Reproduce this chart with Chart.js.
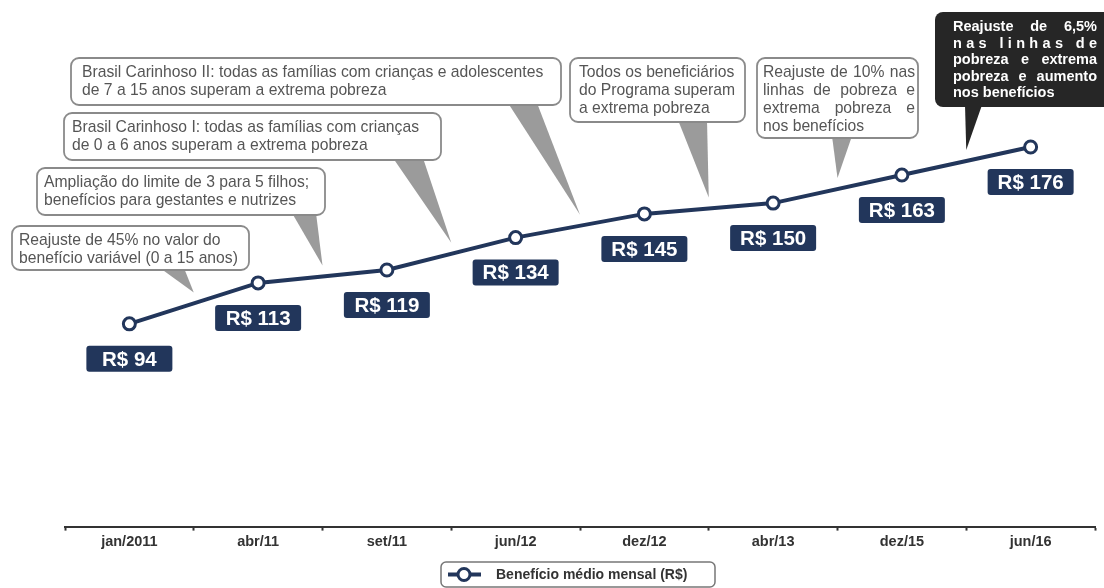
<!DOCTYPE html>
<html>
<head>
<meta charset="utf-8">
<script src="https://cdn.jsdelivr.net/npm/chart.js@4.4.1/dist/chart.umd.min.js"></script>
<style>
  html, body { margin: 0; padding: 0; background: #fff; }
  canvas { display: block; }
</style>
</head>
<body>
<canvas id="chart" width="1104" height="588"></canvas>
<script>
// ── DADOS ──
const categories = ["jan/2011", "abr/11", "set/11", "jun/12", "dez/12", "abr/13", "dez/15", "jun/16"];
const beneficio  = [94, 113, 119, 134, 145, 150, 163, 176];
const seriesLabel = "Benefício médio mensal (R$)";

// textos dos balões (cada um aponta entre o ponto i e i+1)
const calloutTexts = [
    ["Reajuste de 45% no valor do", "benefício variável (0 a 15 anos)"],
    ["Ampliação do limite de 3 para 5 filhos;", "benefícios para gestantes e nutrizes"],
    ["Brasil Carinhoso I: todas as famílias com crianças", "de 0 a 6 anos superam a extrema pobreza"],
    ["Brasil Carinhoso II: todas as famílias com crianças e adolescentes", "de 7 a 15 anos superam a extrema pobreza"],
    ["Todos os beneficiários", "do Programa superam", "a extrema pobreza"],
    ["Reajuste de 10% nas", "linhas de pobreza e", "extrema pobreza e", "nos benefícios"],
    ["Reajuste de 6,5%", "nas linhas de", "pobreza e extrema", "pobreza e aumento", "nos benefícios"]
];
const calloutAfter = [0, 1, 2, 3, 4, 5, 6];

// ── LAYOUT DOS BALÕES (pixels) ──
const calloutBoxes = [
    { x: 12,  y: 226, w: 237, h: 44, tx: 19,  base: [160, 184] },
    { x: 37,  y: 168, w: 288, h: 47, tx: 44,  base: [292, 316] },
    { x: 64,  y: 113, w: 377, h: 47, tx: 72,  base: [393, 423] },
    { x: 71,  y: 58,  w: 490, h: 47, tx: 82,  base: [508, 537] },
    { x: 570, y: 58,  w: 175, h: 64, tx: 579, base: [678, 707] },
    { x: 757, y: 58,  w: 161, h: 80, tx: 763, tw: 152, base: [832, 852], justify: true },
    { x: 935, y: 12,  w: 180, h: 95, tx: 953, tw: 144, base: [965, 982], justify: true, dark: true, spread: [1] }
];

const NAVY  = "#22365b";
const FONT  = "'Liberation Sans', Arial, sans-serif";

function roundRect(ctx, x, y, w, h, r) {
    ctx.beginPath();
    ctx.moveTo(x + r, y);
    ctx.arcTo(x + w, y, x + w, y + h, r);
    ctx.arcTo(x + w, y + h, x, y + h, r);
    ctx.arcTo(x, y + h, x, y, r);
    ctx.arcTo(x, y, x + w, y, r);
    ctx.closePath();
}

function drawLine(ctx, text, x, y, width, mode) {
    if (mode === "chars" || mode === "words") {
        const parts = mode === "chars" ? [...text] : text.split(" ");
        const widths = parts.map(p => ctx.measureText(p).width);
        const total = widths.reduce((a, b) => a + b, 0);
        const gap = (width - total) / (parts.length - 1);
        let cx = x;
        parts.forEach((p, i) => {
            ctx.fillText(p, cx, y);
            cx += widths[i] + gap;
        });
    } else {
        ctx.fillText(text, x, y);
    }
}

// ── BALÕES ──
const calloutPlugin = {
    id: "callouts",
    beforeDatasetsDraw(chart) {
        const ctx  = chart.ctx;
        const meta = chart.getDatasetMeta(0);
        ctx.save();
        calloutBoxes.forEach((b, k) => {
            const i = calloutAfter[k];
            const p0 = meta.data[i], p1 = meta.data[i + 1];
            const tipX = (p0.x + p1.x) / 2;
            const tipY = (p0.y + p1.y) / 2 - 11;

            // ponteiro
            ctx.fillStyle = b.dark ? "#262626" : "#9b9b9b";
            ctx.beginPath();
            ctx.moveTo(b.base[0], b.y + b.h - 2);
            ctx.lineTo(b.base[1], b.y + b.h - 2);
            ctx.lineTo(tipX, tipY);
            ctx.closePath();
            ctx.fill();

            // caixa
            roundRect(ctx, b.x, b.y, b.w, b.h, 8);
            if (b.dark) {
                ctx.fillStyle = "#262626";
                ctx.fill();
            } else {
                ctx.fillStyle = "#fff";
                ctx.fill();
                ctx.lineWidth = 1.8;
                ctx.strokeStyle = "#8a8a8a";
                ctx.stroke();
            }

            // texto
            const lines = calloutTexts[k];
            ctx.fillStyle = b.dark ? "#fff" : "#555";
            ctx.font = b.dark ? `bold 14.5px ${FONT}` : `15.7px ${FONT}`;
            ctx.textBaseline = "middle";
            ctx.textAlign = "left";
            const lh = b.dark ? 16.5 : 18;
            lines.forEach((line, j) => {
                let mode = null;
                if (b.justify && j < lines.length - 1) {
                    mode = (b.spread && b.spread.includes(j)) ? "chars" : "words";
                }
                drawLine(ctx, line, b.tx, b.y + 15 + j * lh, b.tw, mode);
            });
        });
        ctx.restore();
    }
};

// ── RÓTULOS R$ ──
const valueLabelPlugin = {
    id: "valueLabels",
    afterDatasetsDraw(chart) {
        const ctx  = chart.ctx;
        const meta = chart.getDatasetMeta(0);
        ctx.save();
        meta.data.forEach((pt, i) => {
            const cx = pt.x, cy = pt.y + 35;
            roundRect(ctx, cx - 43, cy - 13, 86, 26, 3);
            ctx.fillStyle = NAVY;
            ctx.fill();
            ctx.fillStyle = "#fff";
            ctx.font = `bold 20.5px ${FONT}`;
            ctx.textAlign = "center";
            ctx.textBaseline = "middle";
            ctx.fillText("R$ " + beneficio[i], cx, cy + 1);
        });
        ctx.restore();
    }
};

// ── LEGENDA ──
const legendPlugin = {
    id: "boxLegend",
    afterDraw(chart) {
        const ctx = chart.ctx;
        const x = 441, y = 562, w = 274, h = 25;
        ctx.save();
        roundRect(ctx, x, y, w, h, 5);
        ctx.fillStyle = "#fff";
        ctx.fill();
        ctx.lineWidth = 1.5;
        ctx.strokeStyle = "#777";
        ctx.stroke();

        const my = y + h / 2;
        ctx.strokeStyle = NAVY;
        ctx.lineWidth = 4;
        ctx.beginPath();
        ctx.moveTo(x + 7, my);
        ctx.lineTo(x + 40, my);
        ctx.stroke();
        ctx.beginPath();
        ctx.arc(x + 23, my, 6, 0, Math.PI * 2);
        ctx.fillStyle = "#fff";
        ctx.fill();
        ctx.lineWidth = 3;
        ctx.stroke();

        ctx.fillStyle = "#333";
        ctx.font = `bold 14px ${FONT}`;
        ctx.textBaseline = "middle";
        ctx.textAlign = "left";
        ctx.fillText(chart.data.datasets[0].label, x + 55, my + 1);
        ctx.restore();
    }
};

new Chart(document.getElementById("chart").getContext("2d"), {
    type: "line",
    data: {
        labels: categories,
        datasets: [{
            label: seriesLabel,
            data: beneficio,
            borderColor: NAVY,
            borderWidth: 4,
            pointRadius: 6,
            pointBorderWidth: 3,
            pointBackgroundColor: "#fff",
            pointBorderColor: NAVY,
            tension: 0
        }]
    },
    options: {
        responsive: false,
        animation: false,
        devicePixelRatio: 1,
        layout: { padding: { left: 65, right: 5, top: 7, bottom: 34 } },
        scales: {
            x: {
                offset: true,
                grid: {
                    offset: true,
                    drawOnChartArea: false,
                    drawTicks: true,
                    tickLength: 4,
                    tickWidth: 2,
                    tickColor: "#333"
                },
                border: { display: true, color: "#333", width: 2 },
                ticks: {
                    color: "#333",
                    padding: 3,
                    font: { family: FONT, size: 14.5, weight: "bold" }
                }
            },
            y: {
                display: false,
                min: 0,
                max: 240
            }
        },
        plugins: {
            legend: { display: false },
            tooltip: { enabled: false }
        }
    },
    plugins: [calloutPlugin, valueLabelPlugin, legendPlugin]
});
</script>
</body>
</html>
